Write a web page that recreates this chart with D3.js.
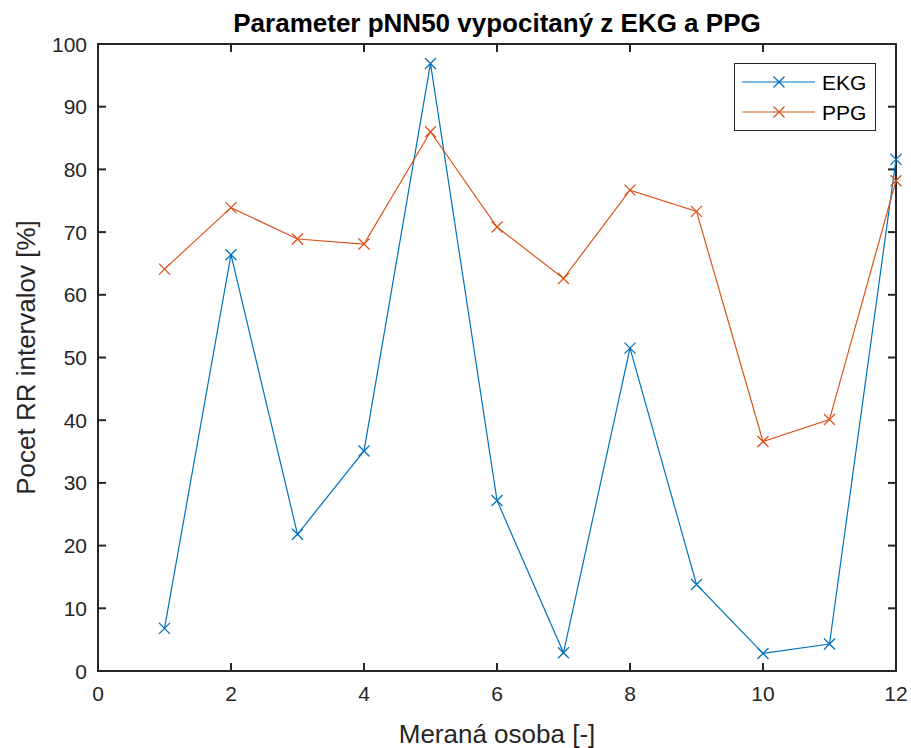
<!DOCTYPE html>
<html><head><meta charset="utf-8">
<script src="https://cdn.jsdelivr.net/npm/d3@7"></script>
<style>body{margin:0;background:#fff}svg{display:block}text{font-family:"Liberation Sans",Arial,sans-serif}</style>
</head><body><svg id="c" width="911" height="748"></svg>
<script>
const persons = [1,2,3,4,5,6,7,8,9,10,11,12];
const ekg = [6.8,66.4,21.8,35.1,96.9,27.2,2.9,51.5,13.8,2.8,4.3,81.6];
const ppg = [64.1,73.9,68.9,68.1,86.0,70.8,62.6,76.7,73.3,36.6,40.1,78.2];
const xTicks = [0,2,4,6,8,10,12];
const yTicks = [0,10,20,30,40,50,60,70,80,90,100];
const seriesNames = ["EKG","PPG"];
const colors = ["#0072BD","#D95319"];

const svg = d3.select("#c");
const L=98, R=896, T=44, B=671;
const x = d3.scaleLinear().domain([0,12]).range([L,R]);
const y = d3.scaleLinear().domain([0,100]).range([B,T]);
const axCol="#262626";

svg.append("rect").attr("x",L).attr("y",T).attr("width",R-L).attr("height",B-T)
  .attr("fill","none").attr("stroke",axCol).attr("stroke-width",2);

const tk=8;
const ax = svg.append("g").attr("stroke",axCol).attr("stroke-width",2);
xTicks.forEach(v=>{
  ax.append("line").attr("x1",x(v)).attr("x2",x(v)).attr("y1",B).attr("y2",B-tk);
  ax.append("line").attr("x1",x(v)).attr("x2",x(v)).attr("y1",T).attr("y2",T+tk);
});
yTicks.forEach(v=>{
  ax.append("line").attr("x1",L).attr("x2",L+tk).attr("y1",y(v)).attr("y2",y(v));
  ax.append("line").attr("x1",R).attr("x2",R-tk).attr("y1",y(v)).attr("y2",y(v));
});
svg.append("g").selectAll("text").data(xTicks).join("text")
  .attr("x",d=>x(d)).attr("y",B+30).attr("text-anchor","middle")
  .attr("font-size",21).attr("fill",axCol).text(d=>d);
svg.append("g").selectAll("text").data(yTicks).join("text")
  .attr("x",L-11).attr("y",d=>y(d)+7.5).attr("text-anchor","end")
  .attr("font-size",21).attr("fill",axCol).text(d=>d);

svg.append("text").attr("x",(L+R)/2).attr("y",743).attr("text-anchor","middle")
  .attr("font-size",26).attr("fill",axCol).text("Meraná osoba [-]");
svg.append("text").attr("transform",`translate(35,${(T+B)/2}) rotate(-90)`).attr("text-anchor","middle")
  .attr("font-size",26).attr("fill",axCol).text("Pocet RR intervalov [%]");
svg.append("text").attr("x",(L+R)/2).attr("y",32).attr("text-anchor","middle")
  .attr("font-size",26).attr("font-weight","bold").attr("fill","#000").text("Parameter pNN50 vypocitaný z EKG a PPG");

const line = d3.line().x((d,i)=>x(persons[i])).y(d=>y(d));
const ms=5.5;
function marker(g,cx,cy,c){
  g.append("path").attr("d",`M${cx-ms},${cy-ms}L${cx+ms},${cy+ms}M${cx-ms},${cy+ms}L${cx+ms},${cy-ms}`)
   .attr("stroke",c).attr("stroke-width",1.3).attr("fill","none");
}
[ekg,ppg].forEach((s,k)=>{
  const g=svg.append("g");
  g.append("path").attr("d",line(s)).attr("fill","none").attr("stroke",colors[k]).attr("stroke-width",1.2);
  s.forEach((v,i)=>marker(g,x(persons[i]),y(v),colors[k]));
});

const lg=svg.append("g");
lg.append("rect").attr("x",734.5).attr("y",63.5).attr("width",141).attr("height",67)
  .attr("fill","#fff").attr("stroke","#262626").attr("stroke-width",1);
seriesNames.forEach((n,k)=>{
  const ly=82+k*30;
  lg.append("line").attr("x1",742).attr("x2",815).attr("y1",ly).attr("y2",ly).attr("stroke",colors[k]).attr("stroke-width",1.2);
  marker(lg,779,ly,colors[k]);
  lg.append("text").attr("x",822).attr("y",ly+7.5).attr("font-size",21).attr("fill","#000").text(n);
});
</script></body></html>
